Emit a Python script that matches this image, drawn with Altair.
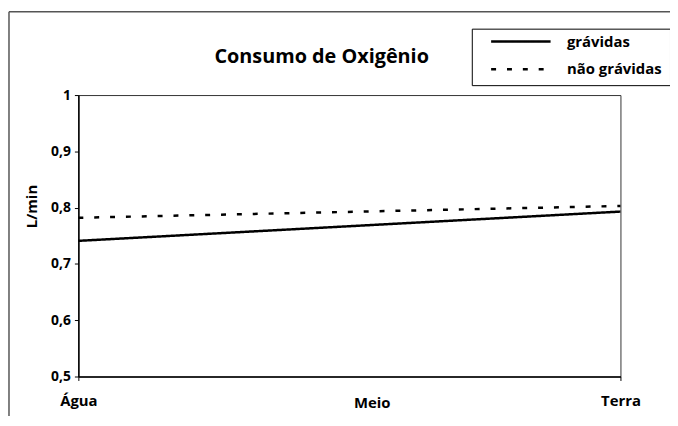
import altair as alt
import pandas as pd

meios = ["Água", "Terra"]
series = ["grávidas", "não grávidas"]
gravidas = [0.741, 0.793]
nao_gravidas = [0.782, 0.803]
y_ticks = [0.5, 0.6, 0.7, 0.8, 0.9, 1.0]

rows = []
for s, vals in zip(series, [gravidas, nao_gravidas]):
    for m, v in zip(meios, vals):
        rows.append({"meio": m, "valor": v, "grupo": s})
df = pd.DataFrame(rows)

FONT = "Open Sans"

lines = alt.Chart(df).mark_line(color="black", strokeWidth=2.5).encode(
    x=alt.X(
        "meio:N",
        sort=meios,
        scale=alt.Scale(padding=0),
        axis=alt.Axis(
            title="Meio", labelAngle=0, tickSize=4, labelPadding=13,
            labelFontSize=15, titleX=296, titleY=31, titleAlign="center",
            titleBaseline="alphabetic", titleFontSize=15,
        ),
    ),
    y=alt.Y(
        "valor:Q",
        scale=alt.Scale(domain=[0.5, 1]),
        axis=alt.Axis(
            values=y_ticks, title="L/min", tickSize=4, labelPadding=4,
            labelFontSize=14,
            labelExpr="replace(format(datum.value, '.1~f'), '.', ',')",
            titleX=-47, titleY=112, titleAlign="center", titleBaseline="middle",
            titleAngle=270, titleFontSize=15,
        ),
    ),
    strokeDash=alt.StrokeDash(
        "grupo:N",
        sort=series,
        scale=alt.Scale(domain=series, range=[[1, 0], [5, 11]]),
        legend=alt.Legend(
            title=None, orient="none", legendX=397, legendY=-67,
            strokeColor="black", fillColor="white", padding=8,
            symbolType="stroke", symbolSize=3600, symbolStrokeWidth=2.5,
            symbolStrokeColor="black", symbolOffset=10, clipHeight=10,
            rowPadding=13, labelOffset=15, labelFontSize=15,
            labelFont=FONT, labelFontWeight="bold", labelColor="black",
        ),
    ),
)

frame_df = pd.DataFrame({"k": [0]})
top_line = alt.Chart(frame_df).mark_rule(color="#555", strokeWidth=1.5).encode(
    x=alt.value(-70), x2=alt.value(600), y=alt.value(-84)
)
left_line = alt.Chart(frame_df).mark_rule(color="#555", strokeWidth=1.5).encode(
    x=alt.value(-70), y=alt.value(-84), y2=alt.value(340)
)

chart = (
    alt.layer(top_line, left_line, lines)
    .properties(
        width=547,
        height=284,
        autosize=alt.AutoSizeParams(type="none"),
        padding={"left": 71, "top": 86, "right": 50, "bottom": 38},
        title=alt.Title(
            "Consumo de Oxigênio", fontSize=20, font=FONT, fontWeight="bold",
            color="black", anchor="middle", dx=-28, offset=0, dy=56,
        ),
    )
    .configure_view(stroke="#333", strokeWidth=1)
    .configure_axis(
        grid=False, domainColor="black", domainWidth=1.5, tickColor="black",
        labelColor="black", labelFont=FONT, labelFontWeight="bold",
        titleColor="black", titleFont=FONT, titleFontWeight="bold",
    )
)

chart.save("out.html", embed_options={"renderer": "svg", "actions": False})
